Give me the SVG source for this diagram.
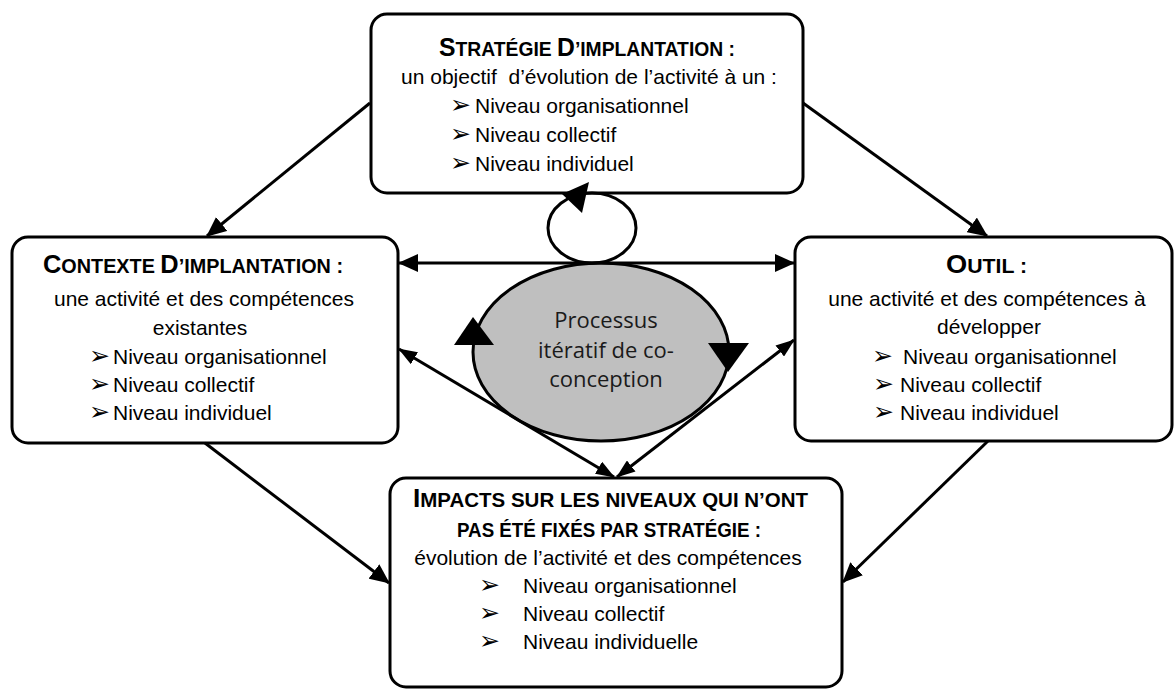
<svg xmlns="http://www.w3.org/2000/svg" width="1174" height="689" viewBox="0 0 1174 689">
<style>
.box{fill:#fff;stroke:#000;stroke-width:3}
.t{font-family:"Liberation Sans",Arial,sans-serif;font-size:21px;fill:#000}
.c{text-anchor:middle}
.h{font-family:"Liberation Sans",Arial,sans-serif;font-weight:bold;fill:#000}
.big{font-size:25px}
.sm{font-size:19.5px}
.bul{font-family:"DejaVu Sans",sans-serif;font-size:25px}
.ln{stroke:#000;stroke-width:3;fill:none}
.el{font-family:"Open Sans","Noto Sans",sans-serif;font-size:22px;fill:#1a1a1a;text-anchor:middle}
</style>
<defs>
<marker id="ab" viewBox="0 0 20 18" refX="19" refY="9" markerWidth="20" markerHeight="18" markerUnits="userSpaceOnUse" orient="auto-start-reverse"><path d="M0,0 L20,9 L0,18 z" fill="#000"/></marker>
<marker id="as" viewBox="0 0 19 14" refX="18" refY="7" markerWidth="19" markerHeight="14" markerUnits="userSpaceOnUse" orient="auto-start-reverse"><path d="M0,0 L19,7 L0,14 z" fill="#000"/></marker>
</defs>

<g id="node-strategie">
<rect class="box" x="371" y="14" width="432" height="179" rx="16"/>
<text class="h" x="439" y="56" textLength="296" lengthAdjust="spacingAndGlyphs"><tspan class="big">S</tspan><tspan class="sm">TRATÉGIE </tspan><tspan class="big">D</tspan><tspan class="sm">’IMPLANTATION :</tspan></text>
<text class="t c" x="589" y="84" xml:space="preserve">un objectif  d’évolution de l’activité à un :</text>
<text class="t" y="113"><tspan class="bul" x="450">➢</tspan><tspan x="475">Niveau organisationnel</tspan></text>
<text class="t" y="142"><tspan class="bul" x="450">➢</tspan><tspan x="475">Niveau collectif</tspan></text>
<text class="t" y="171"><tspan class="bul" x="450">➢</tspan><tspan x="475">Niveau individuel</tspan></text>
</g>

<g id="node-contexte">
<rect class="box" x="12" y="237" width="386" height="206" rx="16"/>
<text class="h" x="43" y="273" textLength="300" lengthAdjust="spacingAndGlyphs"><tspan class="big">C</tspan><tspan class="sm">ONTEXTE </tspan><tspan class="big">D</tspan><tspan class="sm">’IMPLANTATION :</tspan></text>
<text class="t c" x="204" y="306">une activité et des compétences</text>
<text class="t c" x="200" y="335">existantes</text>
<text class="t" y="364"><tspan class="bul" x="89">➢</tspan><tspan x="113">Niveau organisationnel</tspan></text>
<text class="t" y="392"><tspan class="bul" x="89">➢</tspan><tspan x="113">Niveau collectif</tspan></text>
<text class="t" y="420"><tspan class="bul" x="89">➢</tspan><tspan x="113">Niveau individuel</tspan></text>
</g>

<g id="node-outil">
<rect class="box" x="795" y="237" width="377" height="204" rx="16"/>
<text class="h" x="946" y="273" textLength="81" lengthAdjust="spacingAndGlyphs"><tspan class="big">O</tspan><tspan class="sm">UTIL :</tspan></text>
<text class="t c" x="987" y="306">une activité et des compétences à</text>
<text class="t c" x="989" y="334">développer</text>
<text class="t" y="364"><tspan class="bul" x="872">➢</tspan><tspan x="903">Niveau organisationnel</tspan></text>
<text class="t" y="392"><tspan class="bul" x="873">➢</tspan><tspan x="900">Niveau collectif</tspan></text>
<text class="t" y="420"><tspan class="bul" x="873">➢</tspan><tspan x="900">Niveau individuel</tspan></text>
</g>

<g id="node-impacts">
<rect class="box" x="390" y="478" width="452" height="209" rx="16"/>
<text class="h" x="413" y="507" textLength="395" lengthAdjust="spacingAndGlyphs"><tspan class="big">I</tspan><tspan class="sm">MPACTS SUR LES NIVEAUX QUI N’ONT</tspan></text>
<text class="h sm" x="457" y="537" textLength="304" lengthAdjust="spacingAndGlyphs">PAS ÉTÉ FIXÉS PAR STRATÉGIE :</text>
<text class="t c" x="608" y="565">évolution de l’activité et des compétences</text>
<text class="t" y="593"><tspan class="bul" x="479">➢</tspan><tspan x="523">Niveau organisationnel</tspan></text>
<text class="t" y="621"><tspan class="bul" x="479">➢</tspan><tspan x="523">Niveau collectif</tspan></text>
<text class="t" y="649"><tspan class="bul" x="479">➢</tspan><tspan x="523">Niveau individuelle</tspan></text>
</g>

<g id="node-processus">
<ellipse cx="601" cy="352" rx="128" ry="89" fill="#bfbfbf" stroke="#000" stroke-width="3"/>
<text class="el" x="606" y="328">Processus</text>
<text class="el" x="606" y="358">itératif de co-</text>
<text class="el" x="606" y="387">conception</text>
</g>

<g id="connectors">
<ellipse class="ln" cx="592" cy="228" rx="44" ry="35"/>
<polygon points="589,182 562,194 582,213" fill="#000"/>
<polygon points="473,317 454,345 494,345" fill="#000"/>
<polygon points="728,372 708,343 749,343" fill="#000"/>
<line class="ln" x1="399" y1="263" x2="794" y2="263" marker-start="url(#ab)" marker-end="url(#ab)"/>
<line class="ln" x1="399" y1="349" x2="614" y2="477" marker-start="url(#as)" marker-end="url(#as)"/>
<line class="ln" x1="794" y1="340" x2="617" y2="477" marker-start="url(#as)" marker-end="url(#as)"/>
<line class="ln" x1="370" y1="103" x2="207" y2="236" marker-end="url(#ab)"/>
<line class="ln" x1="803" y1="103" x2="987" y2="236" marker-end="url(#ab)"/>
<line class="ln" x1="205" y1="443" x2="389" y2="583" marker-end="url(#ab)"/>
<line class="ln" x1="988" y1="441" x2="843" y2="582" marker-end="url(#ab)"/>
</g>
</svg>
